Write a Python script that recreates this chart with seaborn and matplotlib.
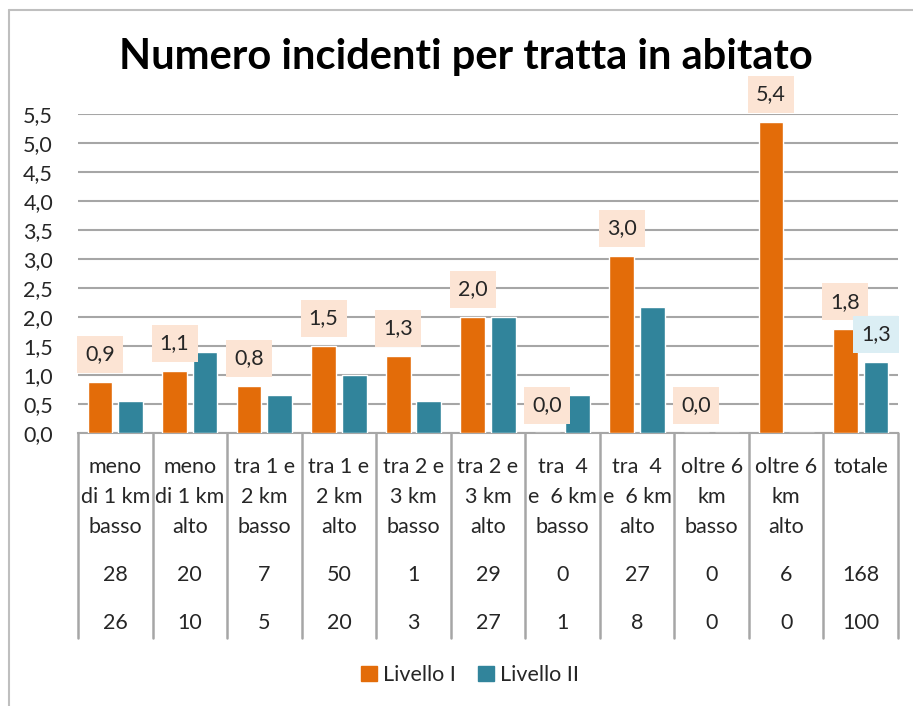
import numpy as np
import pandas as pd
import matplotlib
matplotlib.use("Agg")
import matplotlib.pyplot as plt
import matplotlib.transforms as mtransforms
from matplotlib.lines import Line2D
from matplotlib.patches import Rectangle
from matplotlib.ticker import FuncFormatter
import seaborn as sns

categories = ["meno\ndi 1 km\nbasso", "meno\ndi 1 km\nalto", "tra 1 e\n2 km\nbasso",
              "tra 1 e\n2 km\nalto", "tra 2 e\n3 km\nbasso", "tra 2 e\n3 km\nalto",
              "tra  4\ne  6 km\nbasso", "tra  4\ne  6 km\nalto", "oltre 6\nkm\nbasso",
              "oltre 6\nkm\nalto", "totale"]
livello_1 = [0.88, 1.07, 0.81, 1.50, 1.33, 2.00, 0.0, 3.06, 0.0, 5.37, 1.79]
livello_2 = [0.56, 1.40, 0.65, 1.00, 0.56, 2.00, 0.65, 2.17, 0.0, 0.0, 1.23]
labels_1 = ["0,9", "1,1", "0,8", "1,5", "1,3", "2,0", "0,0", "3,0", "0,0", "5,4", "1,8"]
labels_2 = ["", "", "", "", "", "", "", "", "", "", "1,3"]
count_1 = [28, 20, 7, 50, 1, 29, 0, 27, 0, 6, 168]
count_2 = [26, 10, 5, 20, 3, 27, 1, 8, 0, 0, 100]
yticks = [0.0, 0.5, 1.0, 1.5, 2.0, 2.5, 3.0, 3.5, 4.0, 4.5, 5.0, 5.5]

series = ["Livello I", "Livello II"]
colors = {"Livello I": "#e36c09", "Livello II": "#31849b"}
box_colors = {"Livello I": "#fce4d4", "Livello II": "#dbeef4"}

n = len(categories)
df = pd.DataFrame({
    "cat": list(range(n)) * 2,
    "serie": [series[0]] * n + [series[1]] * n,
    "val": livello_1 + livello_2,
})

sns.set_style("white")
plt.rcParams["font.family"] = ["Lato", "DejaVu Sans"]
txt = "#262626"
grid = "#a6a6a6"
fs = 15.5

W, H = 913, 706
fig = plt.figure(figsize=(W / 100, H / 100), dpi=100)
ax = fig.add_axes([78 / W, 1 - 433 / H, (898 - 78) / W, (433 - 114) / H])

sns.barplot(data=df, x="cat", y="val", hue="serie", hue_order=series,
            palette=colors, width=0.82, gap=0.19, ax=ax, legend=False,
            saturation=1, errorbar=None, zorder=3)

ax.set_ylim(0, 5.5)
ax.set_xlim(-0.5, n - 0.5)
ax.set_yticks(yticks)
ax.yaxis.set_major_formatter(FuncFormatter(lambda v, p: f"{v:.1f}".replace(".", ",")))
ax.tick_params(axis="y", length=0, pad=18, labelsize=fs, labelcolor=txt)
ax.set_xticks([])
ax.set_xlabel("")
ax.set_ylabel("")
ax.grid(axis="y", color=grid, lw=1.5, zorder=0)
for s in ["left", "right", "top"]:
    ax.spines[s].set_visible(False)
ax.spines["bottom"].set_color(grid)
ax.spines["bottom"].set_linewidth(1.5)

# data labels: box 46x37 px sitting 9 px above the bar top
for k, (vals, labs) in enumerate([(livello_1, labels_1), (livello_2, labels_2)]):
    cont = ax.containers[k]
    for bar, v, lab in zip(cont, vals, labs):
        if not lab:
            continue
        xc = bar.get_x() + bar.get_width() / 2
        tr = fig.dpi_scale_trans + mtransforms.ScaledTranslation(xc, v, ax.transData)
        ax.add_patch(Rectangle((-0.23, 0.09), 0.46, 0.37, transform=tr,
                               fc=box_colors[series[k]], ec="none", zorder=4, clip_on=False))
        ax.text(0, 0.275, lab, transform=tr, ha="center", va="center",
                fontsize=fs, color=txt, zorder=5)

# table under the axis
trans = mtransforms.blended_transform_factory(ax.transData, ax.transAxes)
def ay(py):
    return (433 - py) / (433 - 114)

for b in np.arange(-0.5, n, 1.0):
    ax.plot([b, b], [0, ay(638)], color=grid, lw=1.8, transform=trans, clip_on=False)

rows = [467, 497, 527]
for i, c in enumerate(categories):
    for j, line in enumerate(c.split("\n")):
        ax.text(i, ay(rows[j]), line, transform=trans, ha="center", va="center",
                fontsize=fs, color=txt)
    ax.text(i, ay(575), str(count_1[i]), transform=trans, ha="center", va="center",
            fontsize=fs, color=txt)
    ax.text(i, ay(623), str(count_2[i]), transform=trans, ha="center", va="center",
            fontsize=fs, color=txt)

fig.text(466 / W, 1 - 57 / H, "Numero incidenti per tratta in abitato",
         ha="center", va="center", fontsize=30, fontweight="bold", color="black")

handles = [plt.Rectangle((0, 0), 1, 1, color=colors[s]) for s in series]
fig.legend(handles, series, loc="center", bbox_to_anchor=(470 / W, 1 - 675 / H),
           ncol=2, frameon=False, fontsize=fs, handlelength=0.75, handleheight=0.75,
           handletextpad=0.3, columnspacing=1.0, labelcolor=txt)

# outer frame (left and top edges visible)
fig.add_artist(Line2D([9 / W, 9 / W], [0, 1 - 10 / H], color="#bfbfbf", lw=1.5))
fig.add_artist(Line2D([9 / W, 1], [1 - 10 / H, 1 - 10 / H], color="#bfbfbf", lw=1.5))

fig.savefig("out.png", dpi=100, facecolor="white")
